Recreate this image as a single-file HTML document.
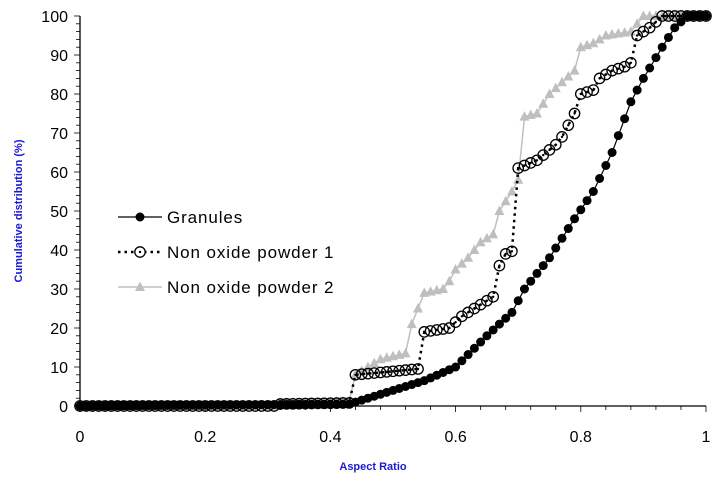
<!DOCTYPE html>
<html><head><meta charset="utf-8"><style>
body{margin:0;background:#fff;width:720px;height:480px;overflow:hidden}
svg text{font-family:"Liberation Sans",sans-serif}
</style></head><body>
<svg id="s" width="720" height="480" xmlns="http://www.w3.org/2000/svg"></svg>
<script>
const s=document.getElementById('s');
const X=v=>80+v*626, Y=v=>406-v*3.9;
let h='';
h+=`<line x1="80" y1="16" x2="80" y2="406" stroke="#000" stroke-width="1.3"/>`;
h+=`<line x1="80" y1="406" x2="706" y2="406" stroke="#000" stroke-width="1.3"/>`;
for(let v=0;v<=100;v+=2){const y=Y(v);h+=`<line x1="${v%10?76:74}" y1="${y}" x2="80" y2="${y}" stroke="#000" stroke-width="0.8"/>`;}
for(let v=0;v<=25;v++){const x=X(v*0.04);h+=`<line x1="${x}" y1="406" x2="${x}" y2="${v%5?410:412}" stroke="#000" stroke-width="0.8"/>`;}
for(let v=0;v<=100;v+=10)h+=`<text x="68" y="${Y(v)+6}" font-size="16" text-anchor="end">${v}</text>`;
['0','0.2','0.4','0.6','0.8','1'].forEach((t,i)=>h+=`<text x="${X(i*0.2)}" y="442" font-size="16" text-anchor="middle">${t}</text>`);
h+=`<text x="373" y="470" font-size="11" font-weight="bold" fill="#1a1ad0" text-anchor="middle">Aspect Ratio</text>`;
h+=`<text transform="translate(22,211) rotate(-90)" font-size="11" font-weight="bold" fill="#1a1ad0" text-anchor="middle">Cumulative distribution (%)</text>`;
function interp(k,x){for(let i=0;i<k.length-1;i++){if(x<=k[i+1][0]){const t=(x-k[i][0])/(k[i+1][0]-k[i][0]||1);return k[i][1]+t*(k[i+1][1]-k[i][1]);}}return k[k.length-1][1];}
function pts(k){const a=[];for(let i=0;i<=100;i++){const x=i/100;a.push([x,interp(k,x)]);}return a;}
const g=pts([[0,0],[0.43,0.5],[0.46,2],[0.5,4],[0.55,6.5],[0.6,10],[0.65,18],[0.69,24],[0.71,30],[0.75,38],[0.79,48],[0.82,55],[0.85,65],[0.88,78],[0.9,84],[0.93,92],[0.95,97],[0.97,100],[1,100]]);
const p1=pts([[0,0],[0.31,0],[0.315,0.5],[0.435,0.8],[0.44,8],[0.54,9.5],[0.55,19],[0.59,20],[0.61,23],[0.64,26],[0.66,28],[0.67,36],[0.68,39],[0.695,40],[0.70,61],[0.73,63],[0.76,67],[0.77,69],[0.78,72],[0.79,75],[0.80,80],[0.82,81],[0.83,84],[0.85,86],[0.87,87],[0.88,88],[0.89,95],[0.91,97],[0.93,100],[1,100]]);
const p2=pts([[0,0],[0.31,0],[0.315,0.8],[0.435,1.2],[0.44,8],[0.46,10],[0.48,12],[0.52,13.5],[0.53,21],[0.55,29],[0.58,30],[0.59,32],[0.6,35],[0.62,38],[0.64,42],[0.66,44],[0.67,50],[0.69,55],[0.70,58],[0.705,74],[0.73,75],[0.75,80],[0.77,83],[0.79,86],[0.8,92],[0.82,93],[0.84,95],[0.88,96],[0.9,100],[1,100]]);
const path=a=>a.map(p=>X(p[0]).toFixed(1)+','+Y(p[1]).toFixed(1)).join(' ');
const tri=(x,y)=>`<polygon points="${x},${y-5.5} ${x-5},${y+4} ${x+5},${y+4}" fill="#bfbfbf"/>`;
h+=`<polyline points="${path(p2)}" fill="none" stroke="#bfbfbf" stroke-width="1.5"/>`;
p2.forEach(p=>h+=tri(X(p[0]),Y(p[1])));
h+=`<polyline points="${path(p1)}" fill="none" stroke="#000" stroke-width="2.5" stroke-dasharray="2.5,4"/>`;
p1.forEach(p=>h+=`<circle cx="${X(p[0])}" cy="${Y(p[1])}" r="5.2" fill="none" stroke="#000" stroke-width="1.3"/><circle cx="${X(p[0])}" cy="${Y(p[1])}" r="1.2"/>`);
h+=`<polyline points="${path(g)}" fill="none" stroke="#000" stroke-width="1.2"/>`;
g.forEach(p=>h+=`<circle cx="${X(p[0])}" cy="${Y(p[1])}" r="4.5"/>`);
h+=`<line x1="118" y1="217" x2="162" y2="217" stroke="#000" stroke-width="1.2"/><circle cx="140" cy="217" r="4.5"/>`;
h+=`<text x="167" y="223" font-size="17" letter-spacing="0.9">Granules</text>`;
h+=`<line x1="118" y1="252" x2="162" y2="252" stroke="#000" stroke-width="2.5" stroke-dasharray="2.5,4"/><circle cx="140" cy="252" r="5.2" fill="#fff" stroke="#000" stroke-width="1.3"/><circle cx="140" cy="252" r="1.2"/>`;
h+=`<text x="167" y="258" font-size="17" letter-spacing="0.9">Non oxide powder 1</text>`;
h+=`<line x1="118" y1="287" x2="162" y2="287" stroke="#bfbfbf" stroke-width="1.5"/>`+tri(140,287);
h+=`<text x="167" y="293" font-size="17" letter-spacing="0.9">Non oxide powder 2</text>`;
s.innerHTML=h;
</script>
</body></html>
